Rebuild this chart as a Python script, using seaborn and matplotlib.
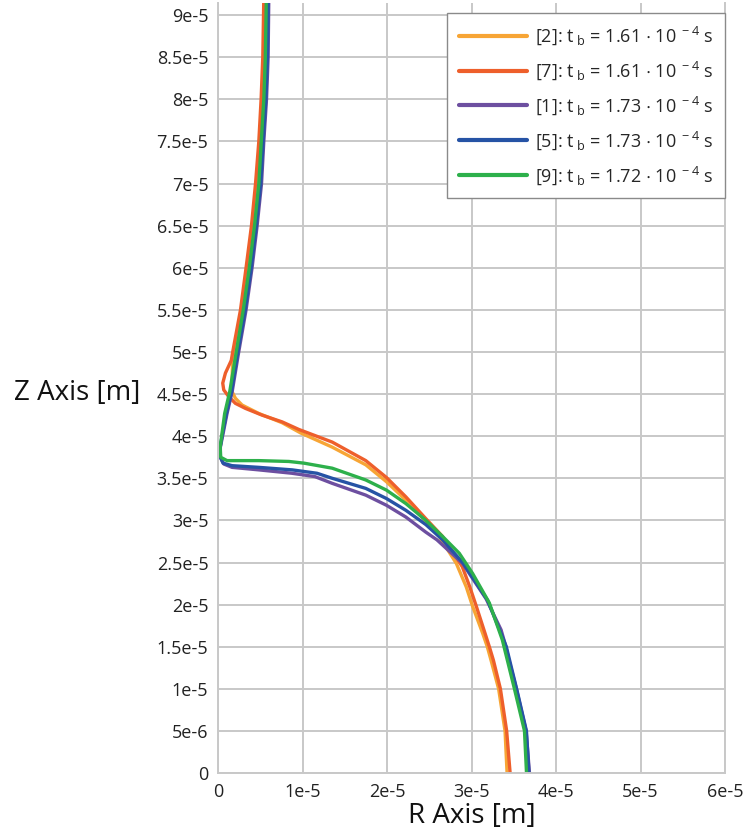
import matplotlib
matplotlib.use("Agg")
import matplotlib.pyplot as plt
import seaborn as sns
import pandas as pd

# Bubble profiles: radius r and height z, both in units of 1e-5 m
UNIT = 1e-5

labels = [
    r"[2]: t$_{\ b}$ = 1.61 $\cdot$ 10$^{\ -4}$ s",
    r"[7]: t$_{\ b}$ = 1.61 $\cdot$ 10$^{\ -4}$ s",
    r"[1]: t$_{\ b}$ = 1.73 $\cdot$ 10$^{\ -4}$ s",
    r"[5]: t$_{\ b}$ = 1.73 $\cdot$ 10$^{\ -4}$ s",
    r"[9]: t$_{\ b}$ = 1.72 $\cdot$ 10$^{\ -4}$ s",
]
colors = ["#F7A535", "#EE5F2B", "#6D4FA0", "#2653A5", "#2DB04B"]

z_2 = [9.20, 8.50, 8.00, 7.50, 7.00, 6.50, 6.00, 5.50, 5.00, 4.90, 4.67, 4.53, 4.45, 4.37,
       4.27, 4.16, 4.04, 3.87, 3.66, 3.46, 3.24, 2.99, 2.81, 2.49, 2.21, 1.98, 1.66, 1.50,
       1.34, 1.00, 0.50, 0.00]
r_2 = [0.554, 0.542, 0.522, 0.495, 0.456, 0.408, 0.346, 0.281, 0.198, 0.174, 0.166, 0.166,
       0.206, 0.285, 0.483, 0.759, 0.975, 1.352, 1.749, 1.993, 2.223, 2.460, 2.618, 2.820,
       2.938, 3.013, 3.132, 3.187, 3.231, 3.321, 3.397, 3.421]

z_7 = [9.20, 8.50, 8.00, 7.50, 7.00, 6.50, 6.00, 5.50, 5.00, 4.90, 4.75, 4.63, 4.55, 4.47,
       4.39, 4.33, 4.25, 4.17, 4.08, 3.93, 3.71, 3.51, 3.28, 3.02, 2.81, 2.45, 2.21, 1.98,
       1.66, 1.50, 1.34, 1.00, 0.50, 0.00]
r_7 = [0.542, 0.530, 0.510, 0.483, 0.444, 0.396, 0.332, 0.266, 0.174, 0.157, 0.088, 0.056,
       0.068, 0.127, 0.206, 0.325, 0.522, 0.759, 0.957, 1.352, 1.749, 1.993, 2.223, 2.460,
       2.657, 2.891, 2.980, 3.057, 3.160, 3.211, 3.259, 3.342, 3.416, 3.457]

z_1 = [9.20, 8.50, 8.00, 7.50, 7.00, 6.50, 6.00, 5.50, 5.00, 4.53, 4.27, 4.01, 3.87, 3.75,
       3.67, 3.63, 3.60, 3.56, 3.52, 3.44, 3.30, 3.18, 3.04, 2.86, 2.77, 2.49, 2.07, 1.70,
       1.50, 1.34, 1.00, 0.50, 0.00]
r_1 = [0.601, 0.593, 0.574, 0.542, 0.515, 0.463, 0.403, 0.332, 0.245, 0.168, 0.107, 0.056,
       0.028, 0.028, 0.068, 0.166, 0.483, 0.874, 1.147, 1.352, 1.749, 1.993, 2.223, 2.460,
       2.590, 2.894, 3.172, 3.350, 3.407, 3.443, 3.531, 3.646, 3.686]

z_5 = [9.20, 8.50, 8.00, 7.50, 7.00, 6.50, 6.00, 5.50, 5.00, 4.53, 4.27, 4.01, 3.87, 3.75,
       3.68, 3.65, 3.63, 3.60, 3.56, 3.50, 3.38, 3.26, 3.12, 2.95, 2.77, 2.49, 2.05, 1.50,
       1.00, 0.50, 0.00]
r_5 = [0.595, 0.585, 0.566, 0.534, 0.505, 0.453, 0.393, 0.322, 0.235, 0.160, 0.100, 0.050,
       0.026, 0.028, 0.060, 0.166, 0.483, 0.879, 1.171, 1.352, 1.749, 1.993, 2.223, 2.460,
       2.657, 2.904, 3.191, 3.412, 3.534, 3.650, 3.680]

z_9 = [9.20, 8.50, 8.00, 7.50, 7.00, 6.50, 6.00, 5.50, 5.00, 4.53, 4.27, 4.01, 3.87, 3.75,
       3.71, 3.71, 3.70, 3.68, 3.62, 3.48, 3.36, 3.20, 3.00, 2.81, 2.61, 2.37, 2.02, 1.58,
       1.00, 0.50, 0.00]
r_9 = [0.572, 0.560, 0.542, 0.512, 0.483, 0.432, 0.370, 0.299, 0.216, 0.139, 0.079, 0.044,
       0.026, 0.032, 0.107, 0.483, 0.839, 1.017, 1.352, 1.749, 1.993, 2.223, 2.460, 2.657,
       2.855, 3.013, 3.211, 3.365, 3.508, 3.627, 3.651]

x_ticks = [0, 1e-5, 2e-5, 3e-5, 4e-5, 5e-5, 6e-5]
x_tick_labels = ["0", "1e-5", "2e-5", "3e-5", "4e-5", "5e-5", "6e-5"]
y_ticks = [0, 5e-6, 1e-5, 1.5e-5, 2e-5, 2.5e-5, 3e-5, 3.5e-5, 4e-5, 4.5e-5,
           5e-5, 5.5e-5, 6e-5, 6.5e-5, 7e-5, 7.5e-5, 8e-5, 8.5e-5, 9e-5]
y_tick_labels = ["0", "5e-6", "1e-5", "1.5e-5", "2e-5", "2.5e-5", "3e-5", "3.5e-5",
                 "4e-5", "4.5e-5", "5e-5", "5.5e-5", "6e-5", "6.5e-5", "7e-5", "7.5e-5",
                 "8e-5", "8.5e-5", "9e-5"]

profiles = [(r_2, z_2), (r_7, z_7), (r_1, z_1), (r_5, z_5), (r_9, z_9)]
frames = []
for lab, (rr, zz) in zip(labels, profiles):
    frames.append(pd.DataFrame({
        "r": [v * UNIT for v in rr],
        "z": [v * UNIT for v in zz],
        "case": lab,
    }))
df = pd.concat(frames, ignore_index=True)

sns.set_theme(style="white")
plt.rcParams["font.family"] = ["Open Sans", "DejaVu Sans"]
plt.rcParams["mathtext.fontset"] = "custom"
plt.rcParams["mathtext.rm"] = "Open Sans"
plt.rcParams["mathtext.it"] = "Open Sans"
plt.rcParams["mathtext.default"] = "regular"

fig = plt.figure(figsize=(7.45, 8.32), dpi=100)
ax = fig.add_axes([218 / 745, 59 / 832, 507 / 745, 770 / 832])

grid_col = "#c8c8c8"
ax.set_axisbelow(True)
ax.grid(True, color=grid_col, linewidth=1.4)

sns.lineplot(data=df, x="r", y="z", hue="case", hue_order=labels,
             palette=dict(zip(labels, colors)), sort=False, estimator=None,
             units="case", linewidth=2.4, ax=ax)
for ln in ax.get_lines():
    ln.set_solid_joinstyle("round")
    ln.set_solid_capstyle("round")

ax.set_xlim(0, 6e-5)
ax.set_ylim(0, 770 / 84.2 * UNIT)
ax.set_xticks(x_ticks)
ax.set_xticklabels(x_tick_labels)
ax.set_yticks(y_ticks)
ax.set_yticklabels(y_tick_labels)
ax.tick_params(axis="both", which="major", labelsize=13, colors="#222222",
               length=8, width=1.2, direction="inout", pad=3)
for t in ax.xaxis.get_ticklines() + ax.yaxis.get_ticklines():
    t.set_color(grid_col)

for side in ["left", "bottom", "right"]:
    ax.spines[side].set_color(grid_col)
    ax.spines[side].set_linewidth(1.4)
ax.spines["top"].set_visible(False)

ax.set_xlabel("R Axis [m]", fontsize=20, color="#111111", va="center")
ax.set_ylabel("Z Axis [m]", fontsize=20, color="#111111", rotation=0,
              ha="center", va="center")
ax.xaxis.set_label_coords(0.501, -0.056)
ax.yaxis.set_label_coords(-0.278, 0.4935)

sns.move_legend(ax, "upper right", bbox_to_anchor=(1.0, 1 - 10 / 770),
                title=None, fontsize=13, frameon=True, fancybox=False,
                edgecolor="#8a8a8a", framealpha=1.0, handlelength=3.8,
                handletextpad=0.4, labelspacing=0.68, borderpad=0.65,
                borderaxespad=0.0)
leg = ax.get_legend()
leg.get_frame().set_linewidth(1.0)
for h in leg.get_lines():
    h.set_linewidth(3.0)

fig.savefig("out.png", dpi=100)
